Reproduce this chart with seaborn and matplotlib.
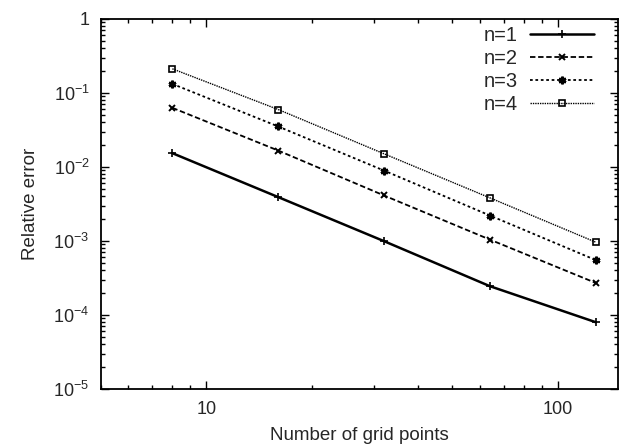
import numpy as np
import pandas as pd
import matplotlib
matplotlib.use("Agg")
import matplotlib.pyplot as plt
import matplotlib.ticker as mticker
import seaborn as sns

# data
grid_points = [8, 16, 32, 64, 128]
err_n1 = [0.0153, 0.0039, 0.00099, 0.000244, 0.0000796]
err_n2 = [0.0627, 0.0166, 0.0041, 0.00104, 0.00027]
err_n3 = [0.132, 0.0351, 0.0089, 0.0022, 0.00055]
err_n4 = [0.211, 0.0595, 0.0150, 0.00381, 0.00096]
series_labels = ["n=1", "n=2", "n=3", "n=4"]
x_tick_values = [10, 100]
x_tick_labels = ["10", "100"]
y_tick_values = [1e-5, 1e-4, 1e-3, 1e-2, 1e-1, 1]
y_tick_labels = [r"$10^{-5}$", r"$10^{-4}$", r"$10^{-3}$", r"$10^{-2}$", r"$10^{-1}$", "1"]

sns.set_style("ticks")
plt.rcParams['font.family'] = ['Liberation Sans', 'DejaVu Sans']
plt.rcParams['mathtext.fontset'] = 'custom'
plt.rcParams['mathtext.rm'] = 'Liberation Sans'
plt.rcParams['mathtext.it'] = 'Liberation Sans'

fig = plt.figure(figsize=(6.21, 4.48), dpi=100)
ax = fig.add_axes([0.162, 0.132, 0.833, 0.826])

styles = {
    "n=1": dict(linestyle="-", linewidth=1.8, marker="+", markersize=6, mew=1.2),
    "n=2": dict(linestyle=(0, (3, 1.5)), linewidth=1.3, marker="x", markersize=4.5, mew=1.4),
    "n=3": dict(linestyle=(0, (1.5, 1.5)), linewidth=1.3, marker=(6, 2, 0), markersize=5.5, mew=1.8),
    "n=4": dict(linestyle=(0, (1, 0.7)), linewidth=1.0, marker="s", markersize=4.5, mew=1.2,
                markerfacecolor="none"),
}

for lab, errs in zip(series_labels, [err_n1, err_n2, err_n3, err_n4]):
    df = pd.DataFrame({"points": grid_points, "error": errs})
    sns.lineplot(data=df, x="points", y="error", ax=ax, color="black",
                 label=lab, markeredgecolor="black", **styles[lab])

ax.set_xscale("log")
ax.set_yscale("log")
ax.set_xlim(5, 148)
ax.set_ylim(1e-5, 1)

ax.set_xticks(x_tick_values)
ax.set_xticklabels(x_tick_labels)
ax.set_yticks(y_tick_values)
ax.set_yticklabels(y_tick_labels)
ax.xaxis.set_minor_locator(mticker.LogLocator(base=10, subs=np.arange(2, 10)))
ax.yaxis.set_minor_locator(mticker.LogLocator(base=10, subs=np.arange(2, 10)))
ax.xaxis.set_minor_formatter(mticker.NullFormatter())
ax.yaxis.set_minor_formatter(mticker.NullFormatter())

ax.tick_params(which="both", direction="in", top=True, right=True, labelsize=13,
               color="black", width=1.0)
ax.tick_params(which="major", length=6)
ax.tick_params(axis="x", which="major", pad=9)
ax.tick_params(axis="y", which="major", pad=8)
ax.tick_params(which="minor", length=3)
for s in ax.spines.values():
    s.set_linewidth(1.3)
    s.set_color("black")

ax.set_xlabel("Number of grid points", fontsize=13.5, labelpad=6)
ax.set_ylabel("Relative error", fontsize=13.5, labelpad=10)

leg = ax.legend(loc="upper right", bbox_to_anchor=(0.958, 0.985), frameon=False,
                markerfirst=False, fontsize=14.5,
                handlelength=3.2, handletextpad=0.6, labelspacing=0.2,
                borderaxespad=0.0, borderpad=0.1)

fig.savefig("out.png", dpi=100)
